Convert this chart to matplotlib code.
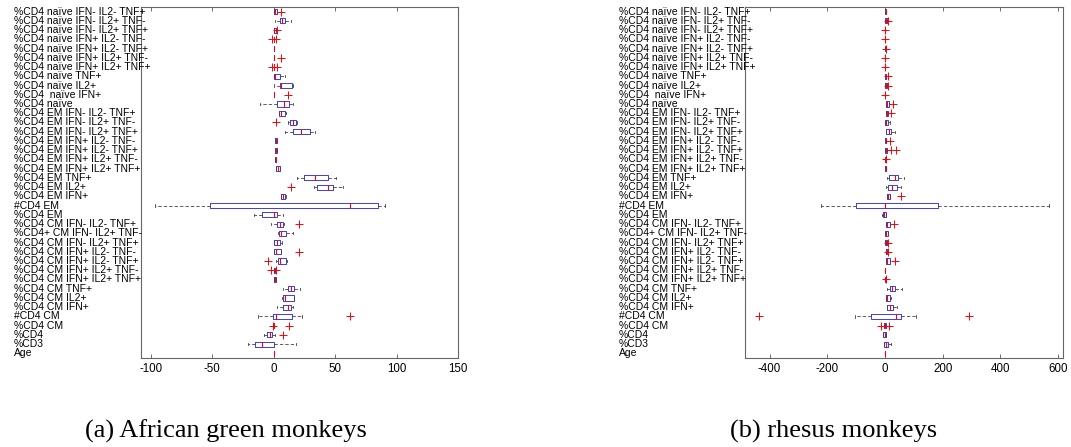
import matplotlib
matplotlib.use('Agg')
import matplotlib.pyplot as plt
from matplotlib.transforms import blended_transform_factory

plt.rcParams['font.family'] = ['Liberation Sans', 'DejaVu Sans']
plt.rcParams['axes.unicode_minus'] = False

labels = [
    '%CD4 naïve IFN- IL2- TNF+', '%CD4 naïve IFN- IL2+ TNF-', '%CD4 naïve IFN- IL2+ TNF+',
    '%CD4 naïve IFN+ IL2- TNF-', '%CD4 naïve IFN+ IL2- TNF+', '%CD4 naïve IFN+ IL2+ TNF-',
    '%CD4 naïve IFN+ IL2+ TNF+', '%CD4 naïve TNF+', '%CD4 naïve IL2+', '%CD4  naïve IFN+',
    '%CD4 naïve', '%CD4 EM IFN- IL2- TNF+', '%CD4 EM IFN- IL2+ TNF-', '%CD4 EM IFN- IL2+ TNF+',
    '%CD4 EM IFN+ IL2- TNF-', '%CD4 EM IFN+ IL2- TNF+', '%CD4 EM IFN+ IL2+ TNF-',
    '%CD4 EM IFN+ IL2+ TNF+', '%CD4 EM TNF+', '%CD4 EM IL2+', '%CD4 EM IFN+', '#CD4 EM',
    '%CD4 EM', '%CD4 CM IFN- IL2- TNF+', '%CD4+ CM IFN- IL2+ TNF-', '%CD4 CM IFN- IL2+ TNF+',
    '%CD4 CM IFN+ IL2- TNF-', '%CD4 CM IFN+ IL2- TNF+', '%CD4 CM IFN+ IL2+ TNF-',
    '%CD4 CM IFN+ IL2+ TNF+', '%CD4 CM TNF+', '%CD4 CM IL2+', '%CD4 CM IFN+', '#CD4 CM',
    '%CD4 CM', '%CD4', '%CD3', 'Age',
]

# (a) African green monkeys
a_q1 = [0, 4.9, 0, 0, 0, 0, 0, 0.5, 5.4, 0, 2.7, 4.6, 13.2, 15.4, 1.0, 1.0, 0.8, 1.6, 24.6,
        34.9, 6.2, -51.9, -9.5, 3.0, 4.3, 0.5, 0.5, 3.8, 0.2, 0.3, 11.6, 7.3, 7.8, -0.5,
        -0.5, -5.4, -14.9, 0]
a_med = [1.0, 7.0, 0.5, 0.2, 0, 0.2, 0.2, 1.4, 6.2, 0.2, 8.0, 6.2, 15.4, 22.0, 2.0, 2.0, 1.5,
         3.5, 33.8, 44.3, 7.6, 62.4, 0, 5.1, 6.2, 2.4, 1.6, 5.4, 0.5, 0.8, 14.0, 8.9, 11.4,
         2.2, 0, -3.2, -9.7, 0]
a_q3 = [2.5, 9.2, 1.5, 0.5, 0, 0.5, 0.5, 5.4, 15.0, 0.5, 12.4, 9.5, 17.8, 29.5, 2.8, 2.8, 2.2,
        5.4, 44.6, 48.6, 9.5, 84.6, 3.0, 7.6, 10.3, 5.4, 5.6, 9.7, 1.2, 2.2, 16.8, 16.2, 14.3,
        15.1, 0.5, -1.1, 0.3, 0]
a_lo = [0, 1.4, 0, 0, 0, 0, 0, 0.5, 0.5, 0, -11.0, 4.0, 12.0, 9.0, 1.0, 1.0, 0.8, 1.6, 19.0,
        33.2, 6.0, -97.0, -16.2, -1.9, 3.8, 0.5, 0.5, 2.2, 0.2, 0.3, 7.6, 7.0, 3.0, -12.7,
        -0.5, -7.8, -20.8, 0]
a_hi = [2.5, 14.0, 1.5, 0.5, 0, 0.5, 0.5, 9.2, 16.0, 0.5, 16.0, 10.3, 19.0, 33.5, 2.8, 2.8,
        2.2, 5.4, 50.5, 56.2, 9.8, 90.8, 7.8, 8.4, 15.7, 6.8, 5.6, 11.0, 1.2, 2.2, 21.0, 16.5,
        15.7, 23.2, 0.5, 1.1, 18.1, 0]
a_fliers = [[6], [], [2.5], [-1, 2], [], [6], [-1, 3], [], [], [11.6], [], [], [1.6], [], [],
            [], [], [], [], [14.3], [], [], [], [20.3], [], [], [20.3], [-4.6], [-2, 1.5], [],
            [], [], [], [62.2], [-0.5, 12.4], [7.8], [], []]

# (b) rhesus monkeys
b_q1 = [0, 1, 0, 0, 0, 0, 0, 1, 1, 0, 4.6, 4.6, 1, 4.6, 0, 1, 1, 1, 15, 11.6, 5.8, -100.6,
        -8, 3.5, 1, 1, 2, 3.5, 0, 0, 17, 2, 7, -47.4, -3, -5.8, -2, 0]
b_med = [2, 4, 0, 0, 2, 0, 0, 3, 3, 0, 8, 7, 3, 12.7, 2, 4, 1, 2, 36, 25.4, 9, 0, -2, 8, 3, 4,
         5, 8, 0, 1, 23, 6, 18.5, 37, 0, -1, 3, 0]
b_q3 = [4, 8, 0, 0, 3, 0, 0, 5, 7, 0, 15, 12, 9, 22, 4, 7, 2, 3, 44, 40.5, 18.5, 183.8, 3.5,
        16, 9, 8, 8, 18.5, 0, 2, 35, 16, 26.6, 54.3, 2, 3.5, 10, 0]
b_lo = [0, 1, 0, 0, 0, 0, 0, 1, 1, 0, 4.6, 4.6, 1, 4.6, 0, 1, 1, 1, 7, 3.5, 5.8, -223, -10,
        3.5, 1, 1, 2, 3.5, 0, 0, 6, 2, 7, -105, -3, -8, -2, 0]
b_hi = [4, 8, 0, 0, 3, 0, 0, 5, 7, 0, 15, 12, 18, 36, 4, 7, 2, 3, 65, 54, 18.5, 568.8, 5, 16,
        9, 8, 8, 18.5, 0, 2, 59, 22, 40.5, 106, 2, 5, 21, 0]
b_fliers = [[], [12], [1], [1], [4], [1], [1], [9], [12], [1], [29], [22], [], [], [17],
            [22, 38], [3], [], [], [], [55.5], [], [], [31], [], [10], [12], [35], [], [5],
            [], [], [], [-435.8, 292.5], [-14, 15], [], [], []]

W, H = 1071, 447


def draw_panel(fig, rect, q1, med, q3, lo, hi, fliers, xlim, xticks, label_x, caption, cap_x):
    ax = fig.add_axes(rect)
    stats = [dict(q1=a, med=m, q3=b, whislo=l, whishi=h, fliers=f)
             for a, m, b, l, h, f in zip(q1, med, q3, lo, hi, fliers)]
    pos = list(range(1, len(stats) + 1))
    ax.bxp(stats, positions=pos, vert=False, widths=0.55, capwidths=0.25,
           boxprops=dict(color='#3c3ce6', lw=0.7),
           medianprops=dict(color='red', lw=0.8),
           whiskerprops=dict(color='#444444', lw=0.6, ls=(0, (4, 2.5))),
           capprops=dict(color='#444444', lw=0.6),
           flierprops=dict(marker='+', markeredgecolor='red', markersize=6, mew=0.7))
    ax.set_ylim(len(stats) + 0.5, 0.5)
    ax.set_xlim(*xlim)
    ax.set_xticks(xticks)
    ax.set_yticks([])
    ax.tick_params(axis='x', direction='in', top=True, length=3, width=0.6,
                   labelsize=8.3, pad=3.5, color='#555555')
    for s in ax.spines.values():
        s.set_color('#666666')
        s.set_linewidth(0.8)
    tr = blended_transform_factory(fig.transFigure, ax.transData)
    for p, lab in zip(pos, labels):
        ax.text(label_x / W, p, lab, transform=tr, ha='left', va='center',
                fontsize=7.5, clip_on=False, zorder=5)
    fig.text(cap_x / W, 1 - 431 / H, caption, ha='center', va='center',
             fontsize=19, family='Liberation Serif')
    return ax


fig = plt.figure(figsize=(W / 100, H / 100), dpi=100)
draw_panel(fig, [141 / W, 1 - 358 / H, 317 / W, 351 / H],
           a_q1, a_med, a_q3, a_lo, a_hi, a_fliers,
           (-108, 150), [-100, -50, 0, 50, 100, 150], 14, '(a) African green monkeys', 226)
draw_panel(fig, [745 / W, 1 - 358 / H, 318 / W, 351 / H],
           b_q1, b_med, b_q3, b_lo, b_hi, b_fliers,
           (-485, 617), [-400, -200, 0, 200, 400, 600], 619, '(b) rhesus monkeys', 834)
fig.savefig('out.png', dpi=100)
